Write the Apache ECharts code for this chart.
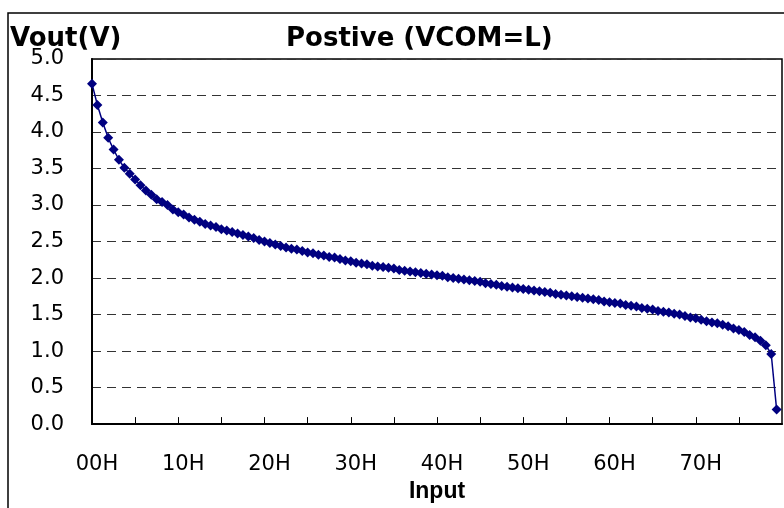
<!DOCTYPE html>
<html>
<head>
<meta charset="utf-8">
<script src="https://cdn.jsdelivr.net/npm/echarts@6/dist/echarts.min.js"></script>
<style>
  html, body { margin: 0; padding: 0; background: #fff; }
  #chart { width: 784px; height: 508px; }
</style>
</head>
<body>
<div id="chart"></div>
<script>
// output voltage for input codes 00H..7FH (index = code)
var vout = [
  4.66, 4.37, 4.13, 3.92, 3.76, 3.62, 3.51, 3.43, 3.35, 3.27, 3.20, 3.14, 3.08, 3.04, 3.00, 2.94,
  2.90, 2.87, 2.83, 2.80, 2.77, 2.74, 2.72, 2.70, 2.67, 2.65, 2.63, 2.61, 2.59, 2.57, 2.55, 2.52,
  2.50, 2.48, 2.46, 2.44, 2.42, 2.40, 2.39, 2.37, 2.35, 2.34, 2.32, 2.31, 2.29, 2.28, 2.26, 2.24,
  2.23, 2.21, 2.20, 2.19, 2.17, 2.16, 2.15, 2.14, 2.13, 2.11, 2.10, 2.09, 2.08, 2.07, 2.06, 2.05,
  2.04, 2.03, 2.01, 2.00, 1.99, 1.98, 1.97, 1.96, 1.95, 1.93, 1.92, 1.91, 1.89, 1.88, 1.87, 1.86,
  1.85, 1.84, 1.83, 1.82, 1.81, 1.80, 1.78, 1.77, 1.76, 1.75, 1.74, 1.73, 1.72, 1.71, 1.70, 1.68,
  1.67, 1.66, 1.65, 1.63, 1.62, 1.61, 1.59, 1.58, 1.57, 1.55, 1.54, 1.53, 1.51, 1.50, 1.48, 1.46,
  1.45, 1.43, 1.41, 1.39, 1.38, 1.36, 1.34, 1.31, 1.29, 1.26, 1.22, 1.19, 1.14, 1.08, 0.96, 0.20
];
var xTickLabels = ['00H', '10H', '20H', '30H', '40H', '50H', '60H', '70H'];

var myChart = echarts.init(document.getElementById('chart'));

var titleFont = { fontFamily: 'DejaVu Sans', fontWeight: 'bold', fontSize: 26, color: '#000' };

var option = {
  animation: false,
  title: [
    { text: 'Vout(V)', left: 10, top: 26, padding: 0, textStyle: titleFont },
    { text: 'Postive (VCOM=L)', left: 286, top: 26, padding: 0, textStyle: titleFont }
  ],
  grid: {
    left: 92, right: 2, top: 59, bottom: 77,
    show: true, borderColor: '#000', borderWidth: 1.5
  },
  xAxis: {
    type: 'value',
    min: 0, max: 128, interval: 8,
    name: 'Input',
    nameLocation: 'middle',
    nameGap: 52,
    nameTextStyle: { fontFamily: 'Liberation Sans', fontWeight: 'bold', fontSize: 23, color: '#000' },
    axisLine: { lineStyle: { color: '#000', width: 2 } },
    axisTick: { inside: true, length: 7, lineStyle: { color: '#000', width: 1 } },
    splitLine: { show: false },
    axisLabel: {
      margin: 30,
      padding: [0, 0, 0, 10],
      fontFamily: 'DejaVu Sans', fontSize: 21, color: '#000',
      showMaxLabel: false,
      formatter: function (v) {
        return (v % 16 === 0 && v < 128) ? xTickLabels[v / 16] : '';
      }
    }
  },
  yAxis: {
    type: 'value',
    min: 0, max: 5, interval: 0.5,
    axisLine: { show: true, lineStyle: { color: '#000', width: 2 } },
    axisTick: { show: false },
    splitLine: { lineStyle: { color: '#333', width: 1, type: [9, 6] } },
    axisLabel: {
      margin: 28,
      padding: [5, 0, 0, 0],
      fontFamily: 'DejaVu Sans', fontSize: 21, color: '#000',
      formatter: function (v) { return v.toFixed(1); }
    }
  },
  series: [
    {
      type: 'line',
      data: vout.map(function (v, i) { return [i, v]; }),
      symbol: 'diamond',
      symbolSize: 10,
      itemStyle: { color: '#000080' },
      lineStyle: { color: '#000080', width: 1.5 }
    }
  ],
  graphic: [
    {
      type: 'rect', z: 100, silent: true,
      shape: { x: 8, y: 13, width: 900, height: 700 },
      style: { fill: 'none', stroke: '#000', lineWidth: 1.5 }
    }
  ]
};
myChart.setOption(option);
</script>
</body>
</html>
